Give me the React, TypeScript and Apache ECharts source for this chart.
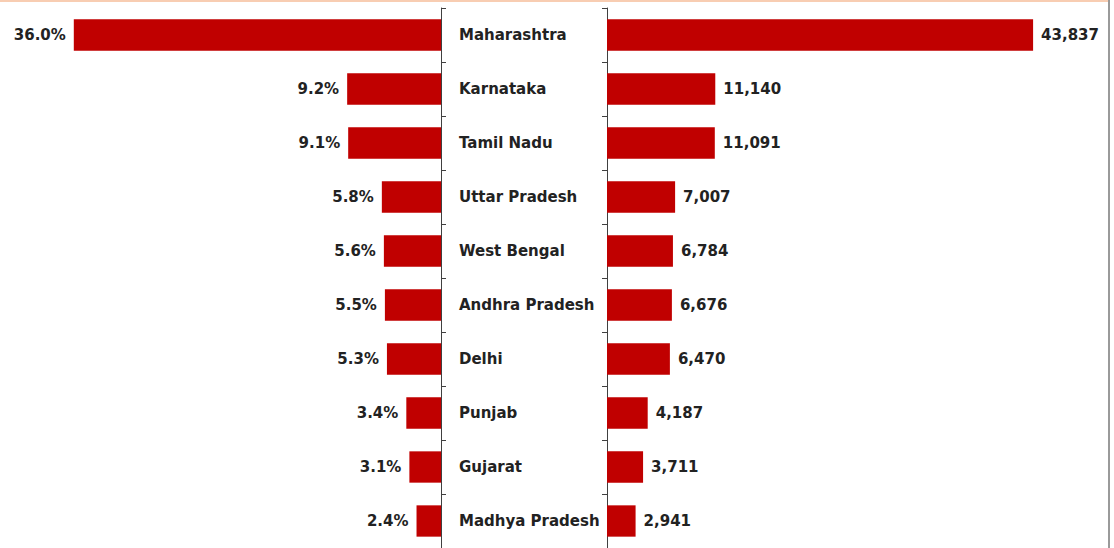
import React, { useEffect, useRef } from "react";
import * as echarts from "echarts";

const categories = [
  "Maharashtra",
  "Karnataka",
  "Tamil Nadu",
  "Uttar Pradesh",
  "West Bengal",
  "Andhra Pradesh",
  "Delhi",
  "Punjab",
  "Gujarat",
  "Madhya Pradesh",
];
const sharePct = [36.0, 9.2, 9.1, 5.8, 5.6, 5.5, 5.3, 3.4, 3.1, 2.4];
const counts = [43837, 11140, 11091, 7007, 6784, 6676, 6470, 4187, 3711, 2941];

const FONT = "'DejaVu Sans', sans-serif";
const TEXT = "#222222";
const BAR = "#c00000";

export default function App() {
  const ref = useRef<HTMLDivElement>(null);
  useEffect(() => {
    if (!ref.current) return;
    const chart = echarts.init(ref.current, null, { renderer: "svg" });
    const labelStyle = {
      show: true,
      color: TEXT,
      fontFamily: FONT,
      fontWeight: "bold" as const,
      fontSize: 15,
      distance: 8,
    };
    chart.setOption({
      animation: false,
      backgroundColor: "#ffffff",
      grid: [
        { left: 33, right: 673, top: 8, bottom: 0 },
        { left: 607, right: 21, top: 8, bottom: 0 },
      ],
      xAxis: [
        {
          gridIndex: 0,
          type: "value",
          min: 0,
          max: 40,
          inverse: true,
          show: false,
        },
        {
          gridIndex: 1,
          type: "value",
          min: 0,
          max: 50000,
          show: false,
        },
      ],
      yAxis: [
        {
          gridIndex: 0,
          type: "category",
          data: categories,
          inverse: true,
          position: "right",
          axisLine: { show: true, lineStyle: { color: "#404040", width: 1 } },
          axisTick: { show: true, inside: false, length: 5, lineStyle: { color: "#404040" } },
          axisLabel: {
            show: true,
            margin: 18,
            align: "left",
            color: TEXT,
            fontFamily: FONT,
            fontWeight: "bold",
            fontSize: 15,
          },
          splitLine: { show: false },
        },
        {
          gridIndex: 1,
          type: "category",
          data: categories,
          inverse: true,
          position: "left",
          axisLine: { show: true, lineStyle: { color: "#404040", width: 1 } },
          axisTick: { show: true, inside: false, length: 5, lineStyle: { color: "#404040" } },
          axisLabel: { show: false },
          splitLine: { show: false },
        },
      ],
      series: [
        {
          type: "bar",
          xAxisIndex: 0,
          yAxisIndex: 0,
          data: sharePct,
          barWidth: "58%",
          itemStyle: { color: BAR },
          label: {
            ...labelStyle,
            position: "left",
            formatter: (p: any) => Number(p.value).toFixed(1) + "%",
          },
        },
        {
          type: "bar",
          xAxisIndex: 1,
          yAxisIndex: 1,
          data: counts,
          barWidth: "58%",
          itemStyle: { color: BAR },
          label: {
            ...labelStyle,
            position: "right",
            formatter: (p: any) => Number(p.value).toLocaleString("en-US"),
          },
        },
      ],
      graphic: [
        {
          type: "rect",
          left: 0,
          top: 0,
          shape: { width: 1108, height: 2 },
          style: { fill: "#f8cdb2" },
          silent: true,
        },
        {
          type: "rect",
          left: 1108,
          top: 0,
          shape: { width: 2, height: 548 },
          style: { fill: "#9a9a9a" },
          silent: true,
        },
      ],
    });
    return () => chart.dispose();
  }, []);
  return (
    <div
      ref={ref}
      style={{ position: "absolute", left: 0, top: 0, width: 1114, height: 548, background: "#fff" }}
    />
  );
}
